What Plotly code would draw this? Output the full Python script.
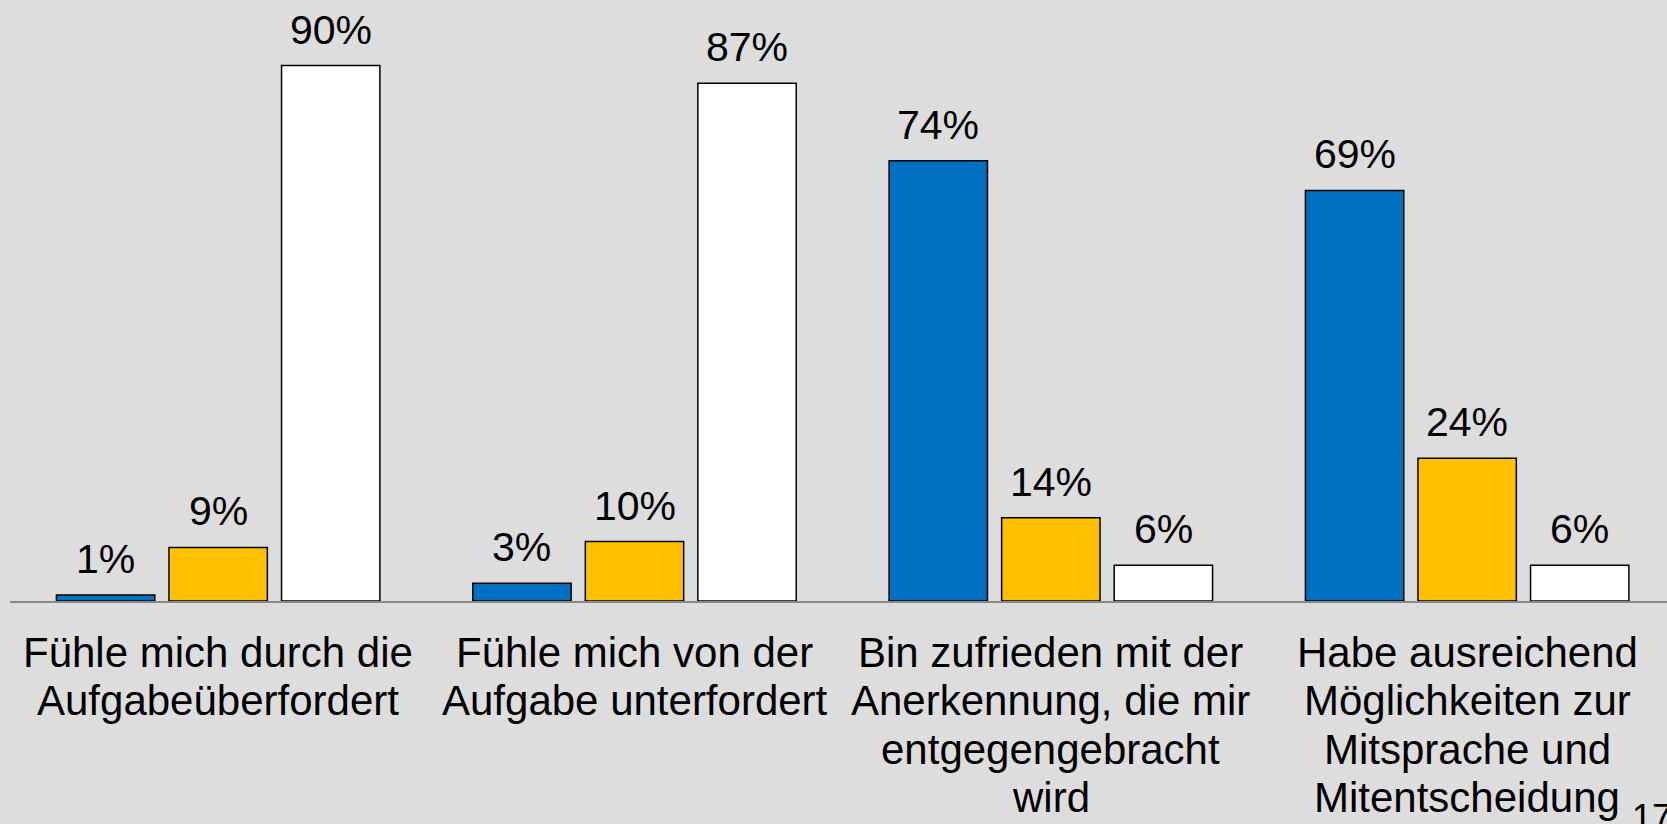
import plotly.graph_objects as go

categories = ["c1", "c2", "c3", "c4"]
category_lines = [
    ["Fühle mich durch die", "Aufgabeüberfordert"],
    ["Fühle mich von der", "Aufgabe unterfordert"],
    ["Bin zufrieden mit der", "Anerkennung, die mir", "entgegengebracht", "wird"],
    ["Habe ausreichend", "Möglichkeiten zur", "Mitsprache und", "Mitentscheidung"],
]
series_a = [1, 3, 74, 69]
series_b = [9, 10, 14, 24]
series_c = [90, 87, 6, 6]
series_colors = ["#0070C0", "#FFC000", "#FFFFFF"]
page_number = "17"

FONT = "Liberation Sans, Arial, sans-serif"
BG = "#DDDDDD"

fig = go.Figure()
all_series = [series_a, series_b, series_c]
for vals, col in zip(all_series, series_colors):
    fig.add_trace(go.Bar(
        x=categories, y=vals,
        marker=dict(color=col, line=dict(color="#000000", width=1.5)),
        showlegend=False, hoverinfo="skip",
    ))

# layout geometry
W, H = 1667, 824
ml, mr, mt, mb = 10, 0, 6, 223
x_range = [-0.5, 3.48]
px_per_cat = (W - ml - mr) / (x_range[1] - x_range[0])
bargap = 0.189
slot = (1 - bargap) * px_per_cat / 3

annotations = []
# data labels
for j, vals in enumerate(all_series):
    for i, v in enumerate(vals):
        annotations.append(dict(
            x=categories[i], y=v, xref="x", yref="y",
            text=f"{v}%", showarrow=False,
            xanchor="center", yanchor="middle",
            xshift=(j - 1) * slot, yshift=36,
            font=dict(family=FONT, size=41, color="#000000"),
        ))
# category labels (one per line)
for i, lines in enumerate(category_lines):
    for k, line in enumerate(lines):
        annotations.append(dict(
            x=categories[i], y=0, xref="x", yref="paper",
            text=line, showarrow=False,
            xanchor="center", yanchor="middle",
            yshift=-51 - 48.5 * k,
            font=dict(family=FONT, size=42, color="#000000"),
        ))
# page number (partly cut at the bottom edge, as in the original slide)
annotations.append(dict(
    x=(1630 - ml) / (W - ml - mr), y=0, xref="paper", yref="paper",
    text=page_number, showarrow=False, xanchor="left", yanchor="top",
    yshift=-194, font=dict(family=FONT, size=36, color="#000000"),
))

fig.update_layout(
    width=W, height=H,
    margin=dict(l=ml, r=mr, t=mt, b=mb, pad=0),
    paper_bgcolor=BG, plot_bgcolor=BG,
    barmode="group", bargap=bargap, bargroupgap=0.126,
    xaxis=dict(range=x_range, showticklabels=False, showgrid=False,
               zeroline=False, showline=True, linecolor="#888888",
               linewidth=2, ticks=""),
    yaxis=dict(range=[0, 100], visible=False, showgrid=False, zeroline=False),
    annotations=annotations,
)

fig.write_html(
    "out.html",
    config={"displayModeBar": False},
    post_script="document.body.style.margin='0';document.body.style.overflow='hidden';document.body.style.background='#DDDDDD';",
)
